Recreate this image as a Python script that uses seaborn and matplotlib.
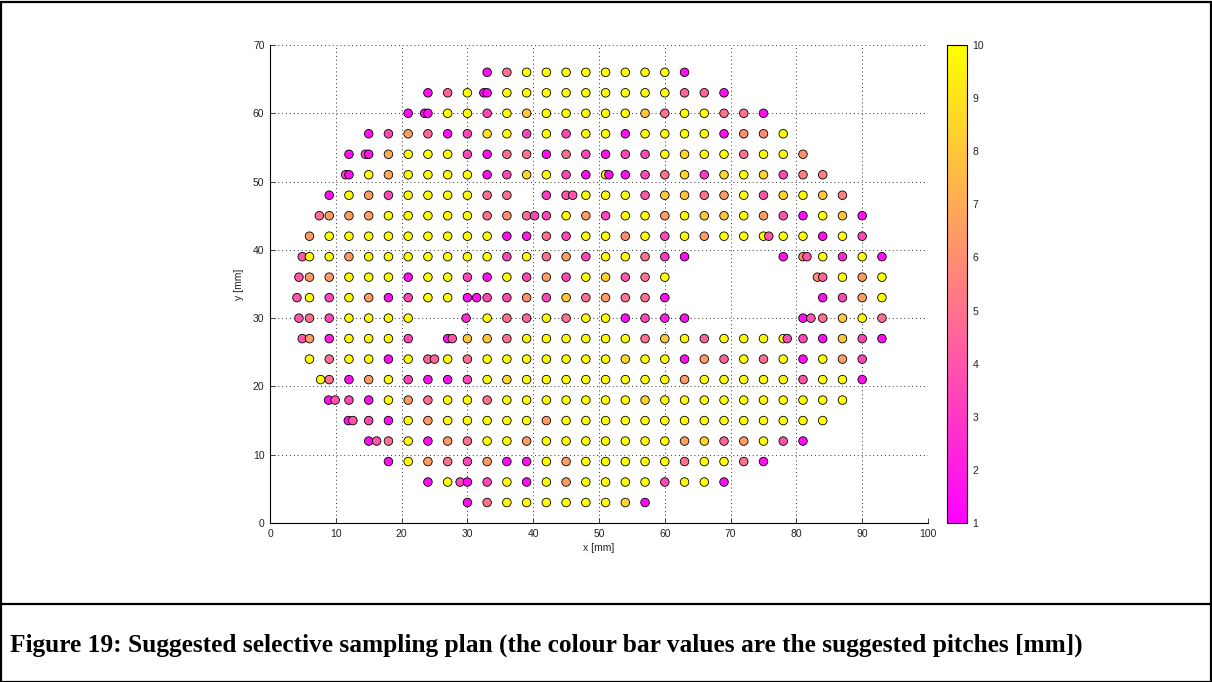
import matplotlib
matplotlib.use("Agg")
import matplotlib.pyplot as plt
from matplotlib.colors import Normalize
from matplotlib.cm import ScalarMappable
from matplotlib.patches import Rectangle
from matplotlib.lines import Line2D
import seaborn as sns
import pandas as pd

# Sampling rows (y position in mm), the x positions in each row and the
# suggested pitch at every sampling point.
row_y = [66, 63, 60, 57, 54, 51, 48, 45, 42, 39, 36, 33, 30, 27, 24, 21, 18, 15, 12, 9, 6, 3]

row_x = [
    [33, 36, 39, 42, 45, 48, 51, 54, 57, 60, 63],
    [24, 27, 30, 32.5, 33, 36, 39, 42, 45, 48, 51, 54, 57, 60, 63, 66, 69],
    [21, 23.5, 24, 27, 30, 33, 36, 39, 42, 45, 48, 51, 54, 57, 60, 63, 66, 69, 72, 75],
    [15, 18, 21, 24, 27, 30, 33, 36, 39, 42, 45, 48, 51, 54, 57, 60, 63, 66, 69, 72, 75, 78],
    [12, 14.5, 15, 18, 21, 24, 27, 30, 33, 36, 39, 42, 45, 48, 51, 54, 57, 60, 63, 66, 69, 72, 75, 78, 81],
    [11.5, 12, 15, 18, 21, 24, 27, 30, 33, 36, 39, 42, 45, 48, 51, 51.5, 54, 57, 60, 63, 66, 69, 72, 75, 78, 81, 84],
    [9, 12, 15, 18, 21, 24, 27, 30, 33, 36, 42, 45, 46, 48, 51, 54, 57, 60, 63, 66, 69, 72, 75, 78, 81, 84, 87],
    [7.5, 9, 12, 15, 18, 21, 24, 27, 30, 33, 36, 39, 40.2, 42, 45, 48, 51, 54, 57, 60, 63, 66, 69, 72, 75, 78, 81, 84, 87, 90],
    [6, 9, 12, 15, 18, 21, 24, 27, 30, 33, 36, 39, 42, 45, 48, 51, 54, 57, 60, 63, 66, 69, 72, 75, 75.8, 78, 81, 84, 87, 90],
    [4.9, 6, 9, 12, 15, 18, 21, 24, 27, 30, 33, 36, 39, 42, 45, 48, 51, 54, 57, 60, 63, 78, 81, 81.6, 84, 87, 90, 93],
    [4.4, 6, 9, 12, 15, 18, 21, 24, 27, 30, 33, 36, 39, 42, 45, 48, 51, 54, 57, 60, 83.2, 84, 87, 90, 93],
    [4.1, 6, 9, 12, 15, 18, 21, 24, 27, 30, 31.4, 33, 36, 39, 42, 45, 48, 51, 54, 57, 60, 84, 87, 90, 93],
    [4.4, 6, 9, 12, 15, 18, 21, 29.8, 33, 36, 39, 42, 45, 48, 51, 54, 57, 60, 63, 81, 82.2, 84, 87, 90, 93],
    [4.9, 6, 9, 12, 15, 18, 21, 27, 27.7, 30, 33, 36, 39, 42, 45, 48, 51, 54, 57, 60, 63, 66, 69, 72, 75, 78, 78.6, 81, 84, 87, 90, 93],
    [6, 9, 12, 15, 18, 21, 24, 25, 27, 30, 33, 36, 39, 42, 45, 48, 51, 54, 57, 60, 63, 66, 69, 72, 75, 78, 81, 84, 87, 90],
    [7.7, 9, 12, 15, 18, 21, 24, 27, 30, 33, 36, 39, 42, 45, 48, 51, 54, 57, 60, 63, 66, 69, 72, 75, 78, 81, 84, 87, 90],
    [8.9, 9.9, 12, 15, 18, 21, 24, 27, 30, 33, 36, 39, 42, 45, 48, 51, 54, 57, 60, 63, 66, 69, 72, 75, 78, 81, 84, 87],
    [11.9, 12.6, 15, 18, 21, 24, 27, 30, 33, 36, 39, 42, 45, 48, 51, 54, 57, 60, 63, 66, 69, 72, 75, 78, 81, 84],
    [15, 16.2, 18, 21, 24, 27, 30, 33, 36, 39, 42, 45, 48, 51, 54, 57, 60, 63, 66, 69, 72, 75, 78, 81],
    [18, 21, 24, 27, 30, 33, 36, 39, 42, 45, 48, 51, 54, 57, 60, 63, 66, 69, 72, 75],
    [24, 27, 28.9, 30, 33, 36, 39, 42, 45, 48, 51, 54, 57, 60, 63, 66, 69],
    [30, 33, 36, 39, 42, 45, 48, 51, 54, 57],
]

row_pitch = [
    [1.5, 5, 10, 10, 10, 10, 10, 10, 10, 10, 1.5],
    [1.5, 4.5, 10, 1.5, 1.5, 10, 10, 10, 10, 10, 10, 10, 10, 10, 4.5, 4.5, 1.5],
    [1.5, 1.5, 1.5, 10, 10, 3.5, 10, 8, 10, 10, 10, 10, 10, 8, 5, 10, 10, 5, 5, 1.5],
    [1.5, 3.5, 6.5, 4.5, 1.5, 3.5, 9, 10, 3.5, 10, 3.5, 10, 10, 1.5, 10, 10, 10, 10, 1.5, 6, 6, 10],
    [1.5, 3.5, 1.5, 7, 10, 10, 10, 3.5, 1.5, 5, 5, 1.5, 5, 3.5, 1.5, 3.5, 3.5, 10, 8.5, 10, 10, 5, 10, 10, 6],
    [3.5, 1.5, 10, 7, 10, 10, 10, 10, 1.5, 3.5, 8.5, 10, 3.5, 1.5, 10, 1.5, 1.5, 3.5, 5, 8.5, 3, 8.5, 10, 8.5, 3.5, 5.5, 5.5],
    [1.5, 10, 6.5, 3.5, 10, 10, 10, 10, 5, 5, 3, 4, 4, 10, 10, 10, 4, 8, 8, 5, 6.5, 10, 4, 8.5, 10, 8, 5.5],
    [5, 6.5, 6.5, 6.5, 10, 10, 10, 10, 10, 5, 6, 5, 3.5, 3.5, 10, 6.5, 3.5, 10, 10, 6.5, 10, 8, 8, 10, 6.5, 4, 1.5, 10, 8, 1.5],
    [6.5, 10, 10, 10, 10, 10, 10, 10, 10, 10, 1.5, 2, 5, 3.5, 10, 10, 6, 10, 3.5, 10, 6.5, 10, 10, 10, 4, 10, 10, 1.5, 10, 3.5],
    [4, 10, 10, 6.5, 10, 10, 10, 10, 10, 10, 10, 3.5, 10, 5, 6.5, 3.5, 10, 10, 5, 3, 1.5, 1.5, 6, 4, 10, 2.5, 10, 1.5],
    [4, 6.5, 6.5, 10, 10, 10, 1.5, 10, 10, 3.5, 1.5, 10, 3.5, 6.5, 3.5, 10, 8.5, 4, 5, 10, 6, 4.5, 10, 6.5, 10],
    [4, 10, 3.5, 10, 6.5, 1.5, 3.5, 10, 10, 1.5, 1.5, 3.5, 3.5, 6, 3.5, 8, 5, 6.5, 5, 5, 1.5, 1.5, 3.5, 6.5, 10],
    [4, 5, 3.5, 10, 10, 10, 10, 2.5, 10, 5, 4.5, 10, 5, 10, 10, 1.5, 3.5, 2, 1.5, 1.5, 4, 5, 8, 10, 5],
    [4, 6.5, 2, 10, 10, 10, 3.5, 1.5, 4, 8, 8, 5, 10, 10, 10, 10, 10, 10, 5, 8, 10, 4.5, 10, 10, 10, 10, 3.5, 3.5, 1.5, 8, 3.5, 1.5],
    [10, 5, 10, 10, 1.5, 10, 4.5, 4.5, 10, 5, 10, 10, 10, 10, 10, 10, 10, 8.5, 10, 10, 1.5, 6.5, 4.5, 10, 5, 10, 1.5, 10, 6.5, 3.5],
    [10, 5, 1.5, 6.5, 10, 3.5, 1.5, 1.5, 3.5, 10, 8.5, 10, 10, 10, 10, 10, 10, 10, 10, 6.5, 10, 10, 10, 10, 10, 4, 10, 10, 1.5],
    [1.5, 4, 3.5, 1.5, 10, 6.5, 5, 10, 10, 5, 10, 10, 10, 10, 10, 10, 10, 8.5, 10, 10, 10, 10, 10, 10, 10, 10, 10, 10],
    [1.5, 4, 3.5, 1.5, 10, 6.5, 10, 10, 10, 10, 10, 6.5, 10, 10, 10, 10, 10, 10, 10, 10, 10, 10, 10, 10, 10, 10],
    [1.5, 4, 5, 10, 1.5, 6.5, 5, 10, 10, 6.5, 10, 10, 10, 10, 10, 10, 10, 6.5, 8.5, 4.5, 6.5, 10, 4, 1.5],
    [1.5, 10, 6.5, 5, 3.5, 6.5, 1.5, 1.5, 10, 6.5, 10, 10, 10, 10, 10, 5, 10, 10, 5, 1.5],
    [1.5, 10, 3.5, 1.5, 3.5, 10, 1.5, 10, 6.5, 10, 10, 10, 10, 3.5, 10, 10, 1.5],
    [1.5, 5, 10, 10, 10, 10, 10, 10, 8.5, 1.5],
]

pitch_ticks = [1, 2, 3, 4, 5, 6, 7, 8, 9, 10]
x_ticks = [0, 10, 20, 30, 40, 50, 60, 70, 80, 90, 100]
y_ticks = [0, 10, 20, 30, 40, 50, 60, 70]
caption = ("Figure 19: Suggested selective sampling plan "
           "(the colour bar values are the suggested pitches [mm])")

# Long-form table of sampling points
records = []
for yv, xs, ps in zip(row_y, row_x, row_pitch):
    for xv, pv in zip(xs, ps):
        records.append({"x": xv, "y": yv, "pitch": pv})
df = pd.DataFrame(records)

sns.set_style("white")
plt.rcParams["font.family"] = ["Liberation Sans", "DejaVu Sans"]

W, H = 1212, 682
fig = plt.figure(figsize=(W / 100, H / 100), dpi=100)

ax = fig.add_axes([270 / W, 1 - 523 / H, 658 / W, 478 / H])
cax = fig.add_axes([947 / W, 1 - 523 / H, 20 / W, 478 / H])

norm = Normalize(vmin=1, vmax=10)
sns.scatterplot(data=df, x="x", y="y", hue="pitch", palette="spring",
                hue_norm=(1, 10), s=38, edgecolor="black", linewidth=0.6,
                legend=False, ax=ax, zorder=3)

ax.set_xlim(0, 100)
ax.set_ylim(0, 70)
ax.set_xticks(x_ticks)
ax.set_yticks(y_ticks)
ax.grid(True, linestyle=(0, (1, 3)), color="#333333", linewidth=0.7)
ax.set_axisbelow(True)
for side in ("top", "right"):
    ax.spines[side].set_visible(False)
for side in ("left", "bottom"):
    ax.spines[side].set_color("black")
    ax.spines[side].set_linewidth(0.8)
ax.tick_params(direction="in", length=3.5, width=0.6, labelsize=7.5,
               labelcolor="#222222", pad=4, left=True, bottom=True)
ax.set_xlabel("x [mm]", fontsize=7.5, color="#222222", labelpad=3)
ax.set_ylabel("y [mm]", fontsize=7.5, color="#222222", labelpad=6)

# Colour bar for the suggested pitch
sm = ScalarMappable(norm=norm, cmap="spring")
cb = fig.colorbar(sm, cax=cax, ticks=pitch_ticks)
cb.outline.set_edgecolor("black")
cb.outline.set_linewidth(0.8)
cax.yaxis.set_ticks_position("both")
cax.tick_params(direction="in", length=4, width=0.6, labelsize=7.5,
                labelcolor="#222222", left=True, right=True,
                labelleft=False, labelright=True, pad=4)

# Document frame with caption panel
fig.patches.append(Rectangle((0.5 / W, 0.5 / H), 1 - 2 / W, 1 - 2 / H,
                             transform=fig.transFigure, fill=False,
                             edgecolor="black", linewidth=1.6))
fig.lines.append(Line2D([0, 1], [1 - 604 / H, 1 - 604 / H],
                        transform=fig.transFigure, color="black",
                        linewidth=1.6))
fig.text(10 / W, 1 - 645 / H, caption, ha="left", va="center",
         fontsize=18.3, fontweight="bold", family="Liberation Serif",
         color="black")

fig.savefig("out.png", dpi=100, facecolor="white")
